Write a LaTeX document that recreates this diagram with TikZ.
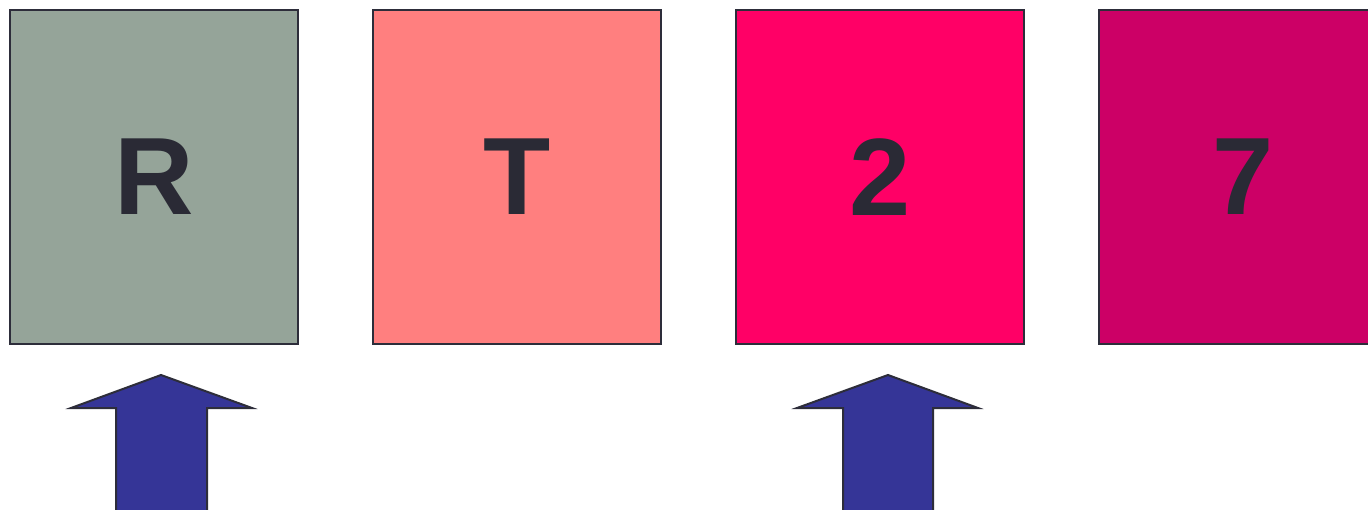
\documentclass[tikz,border=0pt]{standalone}
\usepackage{fontspec}
\setmainfont{Liberation Sans}
\definecolor{cA}{HTML}{95A499}
\definecolor{cB}{HTML}{FF7F7F}
\definecolor{cC}{HTML}{FF0066}
\definecolor{cD}{HTML}{CC0066}
\definecolor{ink}{HTML}{2A2A35}
\definecolor{edge}{HTML}{2D2D3A}
\definecolor{arr}{HTML}{353597}
\begin{document}
\begin{tikzpicture}[x=1pt,y=-1pt,
  card/.style={draw=edge,line width=2pt,minimum width=288pt,minimum height=334pt,inner sep=0pt,
    text=ink,font=\fontsize{110}{110}\selectfont\bfseries},
  uparrow/.style={draw=edge,line width=2pt,fill=arr,line join=miter}]
\clip (0,0) rectangle (1368,509);
\fill[white] (0,0) rectangle (1368,509);
\node[card,fill=cA] (b1) at (154,177) {R};
\node[card,fill=cB] (b2) at (517,177) {T};
\node[card,fill=cC] (b3) at (880,177) {2};
\node[card,fill=cD] (b4) at (1243,177) {7};
\draw[uparrow] (161,375) -- (252,408) -- (207,408) -- (207,520) -- (116,520) -- (116,408) -- (71,408) -- cycle;
\draw[uparrow] (888,375) -- (978,408) -- (933,408) -- (933,520) -- (843,520) -- (843,408) -- (797,408) -- cycle;
\end{tikzpicture}
\end{document}
